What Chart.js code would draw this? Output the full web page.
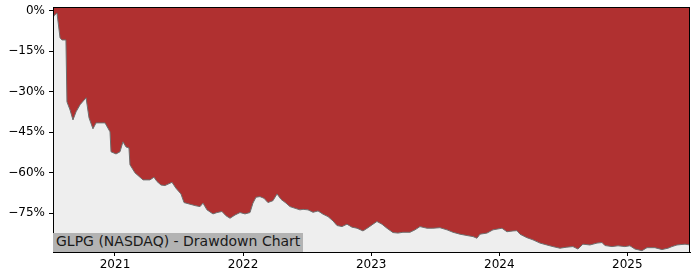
<!DOCTYPE html>
<html>
<head>
<meta charset="utf-8">
<script src="https://cdn.jsdelivr.net/npm/chart.js@4.4.0/dist/chart.umd.min.js"></script>
<style>
  html, body { margin: 0; padding: 0; background: #fff; }
  #wrap { position: relative; width: 700px; height: 280px; }
  #label {
    position: absolute; left: 53px; top: 233px; height: 19px; line-height: 19px;
    padding: 0 3px; background: #b3b3b3; color: #1a1a1a;
    font: 14px "DejaVu Sans", sans-serif; white-space: nowrap;
  }
</style>
</head>
<body>
<div id="wrap">
  <canvas id="chart" width="700" height="280"></canvas>
  <div id="label">GLPG (NASDAQ) - Drawdown Chart</div>
</div>
<script>
// Drawdown of GLPG, x as decimal year, y in percent
const dates = [
  2020.516, 2020.524, 2020.547, 2020.571, 2020.586, 2020.617, 2020.625, 2020.649, 2020.672, 2020.696,
  2020.727, 2020.774, 2020.797, 2020.828, 2020.852, 2020.922, 2020.961, 2020.969, 2021.008, 2021.039,
  2021.062, 2021.086, 2021.109, 2021.117, 2021.156, 2021.219, 2021.273, 2021.304, 2021.328, 2021.359,
  2021.390, 2021.445, 2021.476, 2021.515, 2021.539, 2021.585, 2021.632, 2021.664, 2021.687, 2021.718,
  2021.765, 2021.796, 2021.835, 2021.867, 2021.898, 2021.937, 2021.976, 2022.015, 2022.054, 2022.077,
  2022.101, 2022.132, 2022.163, 2022.194, 2022.233, 2022.265, 2022.296, 2022.335, 2022.366, 2022.405,
  2022.444, 2022.468, 2022.507, 2022.546, 2022.585, 2022.624, 2022.663, 2022.702, 2022.733, 2022.772,
  2022.811, 2022.850, 2022.889, 2022.936, 2022.975, 2023.014, 2023.045, 2023.084, 2023.123, 2023.170,
  2023.209, 2023.248, 2023.303, 2023.342, 2023.381, 2023.436, 2023.482, 2023.537, 2023.592, 2023.639,
  2023.693, 2023.748, 2023.795, 2023.826, 2023.849, 2023.904, 2023.951, 2024.021, 2024.060, 2024.107,
  2024.138, 2024.162, 2024.216, 2024.263, 2024.318, 2024.372, 2024.419, 2024.474, 2024.528, 2024.575,
  2024.614, 2024.653, 2024.708, 2024.763, 2024.802, 2024.825, 2024.880, 2024.927, 2024.981, 2025.020,
  2025.059, 2025.114, 2025.153, 2025.215, 2025.270, 2025.317, 2025.348, 2025.387, 2025.450, 2025.489
];
const drawdown = [
  -2.7, -1.9, -0.9, -10.1, -10.9, -10.9, -33.8, -36.8, -40.5, -37.5,
  -34.9, -32.3, -39.7, -43.8, -41.6, -41.6, -44.9, -52.3, -53.1, -52.3,
  -48.6, -50.5, -50.9, -57.1, -60.1, -62.7, -62.7, -61.7, -63.3, -64.6,
  -64.8, -63.6, -65.8, -67.9, -71.1, -71.7, -72.3, -72.6, -71.3, -73.8,
  -75.3, -74.8, -74.4, -76.0, -76.9, -75.7, -74.8, -75.3, -74.8, -71.3,
  -69.1, -68.9, -69.5, -71.1, -70.4, -67.9, -69.9, -71.3, -72.6, -73.2,
  -73.8, -73.6, -73.8, -74.7, -74.2, -75.4, -76.3, -77.9, -79.6, -80.0,
  -79.1, -80.2, -80.6, -81.6, -80.4, -79.1, -78.1, -79.1, -80.6, -82.2,
  -82.4, -82.1, -82.1, -81.2, -80.0, -80.6, -80.6, -80.4, -81.2, -82.1,
  -82.8, -83.3, -83.7, -84.3, -82.8, -82.4, -81.2, -80.6, -81.9, -81.6,
  -81.5, -82.8, -84.1, -84.9, -86.1, -86.8, -87.4, -88.0, -87.6, -87.4,
  -88.3, -86.5, -86.8, -86.1, -85.9, -87.0, -87.4, -87.1, -87.4, -87.1,
  -88.3, -88.9, -87.8, -87.8, -88.5, -88.0, -87.4, -86.8, -86.5, -86.8
];
const yTicks = [0, -15, -30, -45, -60, -75];
const xTicks = [2021, 2022, 2023, 2024, 2025];

const font = { family: 'DejaVu Sans', size: 12 };

// light gray behind the line plus black frame round the plot
const plotFrame = {
  id: 'plotFrame',
  beforeDatasetsDraw(chart) {
    const { ctx, chartArea: a } = chart;
    ctx.save();
    ctx.fillStyle = '#eeeeee';
    ctx.fillRect(a.left, a.top, a.right - a.left, a.bottom - a.top);
    ctx.restore();
  },
  afterDraw(chart) {
    const { ctx, chartArea: a } = chart;
    ctx.save();
    ctx.strokeStyle = '#000';
    ctx.lineWidth = 1;
    ctx.strokeRect(a.left + 0.5, a.top + 0.5, a.right - a.left - 1, a.bottom - a.top);
    ctx.restore();
  }
};

new Chart(document.getElementById('chart'), {
  type: 'line',
  data: {
    datasets: [{
      data: dates.map((d, i) => ({ x: d, y: drawdown[i] })),
      borderColor: '#6e6e6e',
      borderWidth: 1,
      backgroundColor: '#b03030',
      fill: 'end',
      pointRadius: 0,
      tension: 0,
    }],
  },
  options: {
    responsive: false,
    animation: false,
    layout: { padding: { top: 7, right: 10, left: 0, bottom: 0 } },
    plugins: { legend: { display: false }, tooltip: { enabled: false } },
    scales: {
      x: {
        type: 'linear',
        min: 2020.516,
        max: 2025.489,
        afterBuildTicks: (s) => { s.ticks = xTicks.map(v => ({ value: v })); },
        afterFit: (s) => { s.height = 28; s.paddingLeft = 0; s.paddingRight = 0; },
        ticks: { color: '#000', font: font, padding: 2, maxRotation: 0, callback: v => String(v) },
        grid: { drawOnChartArea: false, tickLength: 4, color: '#000' },
        border: { color: '#000' },
      },
      y: {
        min: -89.4,
        max: 1.3,
        afterBuildTicks: (s) => { s.ticks = yTicks.map(v => ({ value: v })); },
        afterFit: (s) => { s.width = 53; s.paddingTop = 0; s.paddingBottom = 0; },
        ticks: {
          color: '#000', font: font, padding: 4,
          callback: v => (v < 0 ? '\u2212' : '') + Math.abs(v) + '%',
        },
        grid: { drawOnChartArea: false, tickLength: 4, color: '#000' },
        border: { color: '#000' },
      },
    },
  },
  plugins: [plotFrame],
});
</script>
</body>
</html>
